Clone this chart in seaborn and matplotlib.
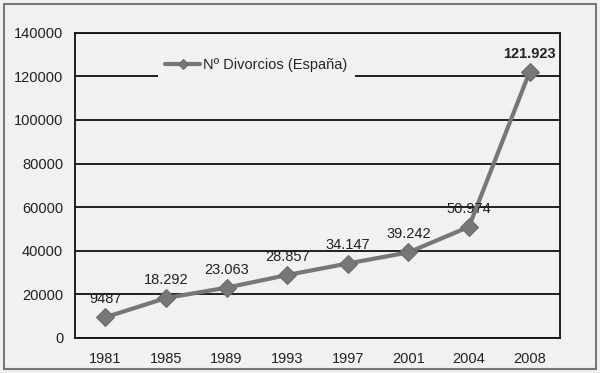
import matplotlib
matplotlib.use("Agg")
import matplotlib.pyplot as plt
import seaborn as sns
import pandas as pd

sns.set_style("white")
plt.rcParams['font.family'] = ['Liberation Sans', 'DejaVu Sans']

years = ["1981", "1985", "1989", "1993", "1997", "2001", "2004", "2008"]
divorces = [9487, 18292, 23063, 28857, 34147, 39242, 50974, 121923]
labels = ["9487", "18.292", "23.063", "28.857", "34.147", "39.242", "50.974", "121.923"]

df = pd.DataFrame({"year": years, "n": divorces})

bg = "#f1f1f1"
fig = plt.figure(figsize=(6, 3.73), dpi=100, facecolor=bg)
ax = fig.add_axes([0.125, 0.094, 0.808, 0.818])
ax.set_facecolor(bg)

sns.lineplot(data=df, x="year", y="n", ax=ax, color="#777777", lw=3.0,
             marker="D", markersize=9, markeredgecolor="#6a6a6a",
             label="Nº Divorcios (España)", zorder=3)

for i, (v, t) in enumerate(zip(divorces, labels)):
    ax.annotate(t, (i, v), xytext=(0, 8), textcoords="offset points",
                ha="center", va="bottom", fontsize=10.5, color="#222222",
                fontweight="bold" if i == len(years) - 1 else "normal")

ax.set_xlim(-0.5, 7.5)
ax.set_ylim(0, 140000)
ax.set_yticks(range(0, 140001, 20000))
ax.set_xticks([x - 0.5 for x in range(9)], minor=True)
ax.set_xticks(range(8))
ax.set_xticklabels(years)
ax.tick_params(axis="x", which="major", length=0, pad=10, labelsize=10.5, colors="#222222")
ax.tick_params(axis="x", which="minor", length=5, width=1.2, direction="in", color="#222222")
ax.tick_params(axis="y", length=5, width=1.2, direction="out", labelsize=10.5, colors="#222222")
ax.yaxis.grid(True, color="#111111", lw=1.3)
ax.set_axisbelow(True)
for s in ["left", "bottom", "right", "top"]:
    ax.spines[s].set_color("#111111")
    ax.spines[s].set_linewidth(1.3)
ax.set_xlabel("")
ax.set_ylabel("")

leg = ax.legend(loc="center left", bbox_to_anchor=(0.165, 0.895), frameon=True,
                fontsize=10.5, handlelength=2.4, borderpad=0.2, handletextpad=0.2)
leg.legend_handles[0].set_markersize(5)
leg.get_frame().set_facecolor(bg)
leg.get_frame().set_edgecolor("none")
leg.get_frame().set_alpha(1)
leg.get_frame().set_boxstyle("square", pad=0.3)

fig.patches.append(plt.Rectangle((0.006, 0.012), 0.988, 0.978, transform=fig.transFigure,
                                 fill=False, edgecolor="#777777", lw=1.5))

fig.savefig("out.png", dpi=100, facecolor=bg)
